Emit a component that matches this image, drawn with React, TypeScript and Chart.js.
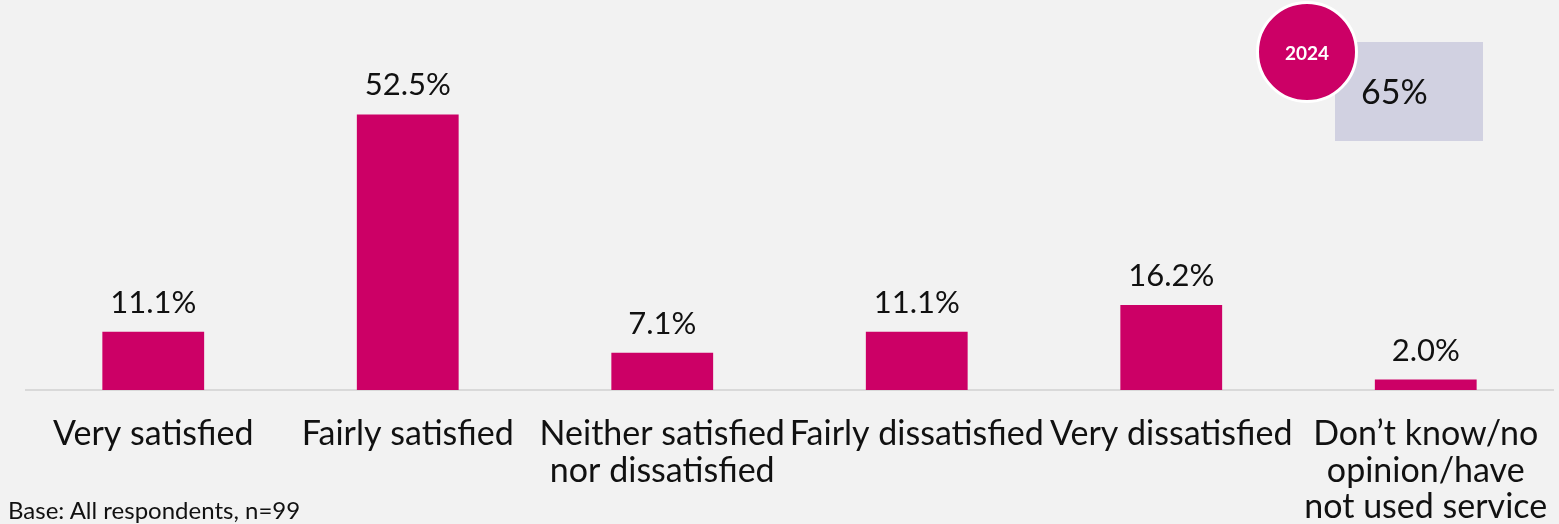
import React, { useEffect, useRef } from "react";
import { Chart, registerables } from "chart.js";

Chart.register(...registerables);

const categories: string[][] = [
  ["Very satisfied"],
  ["Fairly satisfied"],
  ["Neither satisfied", "nor dissatisfied"],
  ["Fairly dissatisfied"],
  ["Very dissatisfied"],
  ["Don\u2019t know/no", "opinion/have", "not used service"],
];
const values: number[] = [11.1, 52.5, 7.1, 11.1, 16.2, 2.0];
const yearLabel = "2024";
const headlineValue = "65%";
const baseNote = "Base: All respondents, n=99";

const BAR_COLOR = "#cc0066";
const BG = "#f2f2f2";
const FONT = "Lato, 'Open Sans', sans-serif";

const valueLabels = {
  id: "valueLabels",
  afterDatasetsDraw(chart: any) {
    const ctx = chart.ctx;
    const meta = chart.getDatasetMeta(0);
    ctx.save();
    ctx.fillStyle = "#111";
    ctx.font = `31px ${FONT}`;
    ctx.textAlign = "center";
    ctx.textBaseline = "alphabetic";
    meta.data.forEach((bar: any, i: number) => {
      ctx.fillText(values[i].toFixed(1) + "%", bar.x, bar.y - 19);
    });
    ctx.restore();
  },
};

export default function App() {
  const ref = useRef<HTMLCanvasElement | null>(null);

  useEffect(() => {
    document.body.style.margin = "0";
    document.body.style.background = BG;
    if (!ref.current) return;
    const chart = new Chart(ref.current, {
      type: "bar",
      data: {
        labels: categories,
        datasets: [
          {
            data: values,
            backgroundColor: BAR_COLOR,
            categoryPercentage: 1,
            barPercentage: 0.4,
          },
        ],
      },
      options: {
        animation: false,
        responsive: false,
        layout: { padding: { left: 26, right: 6, top: 75, bottom: 0 } },
        plugins: { legend: { display: false }, tooltip: { enabled: false } },
        scales: {
          y: { display: false, min: 0, max: 60 },
          x: {
            grid: { display: false },
            border: { display: true, color: "#d9d9d9", width: 2 },
            ticks: {
              color: "#111",
              font: { family: FONT, size: 34, lineHeight: "36.5px" },
              padding: 18,
              maxRotation: 0,
              autoSkip: false,
            },
            afterFit: (scale: any) => {
              scale.height = 134;
              scale.paddingLeft = 0;
              scale.paddingRight = 0;
            },
          },
        },
      },
      plugins: [valueLabels],
    });
    return () => chart.destroy();
  }, []);

  return (
    <div
      style={{
        position: "absolute",
        left: 0,
        top: 0,
        width: 1559,
        height: 524,
        background: BG,
        overflow: "hidden",
        fontFamily: FONT,
      }}
    >
      <canvas ref={ref} width={1559} height={524} style={{ display: "block" }} />
      <div
        style={{
          position: "absolute",
          left: 1335,
          top: 42,
          width: 148,
          height: 99,
          background: "#d1d1e1",
          boxSizing: "border-box",
        }}
      >
        <div
          style={{
            position: "absolute",
            left: 26,
            top: 29,
            fontSize: 34,
            lineHeight: "40px",
            color: "#111",
          }}
        >
          {headlineValue}
        </div>
      </div>
      <div
        style={{
          position: "absolute",
          left: 1256,
          top: 1,
          width: 102,
          height: 102,
          borderRadius: "50%",
          background: BAR_COLOR,
          border: "3px solid #fff",
          boxSizing: "border-box",
          display: "flex",
          alignItems: "center",
          justifyContent: "center",
          color: "#fff",
          fontWeight: 700,
          fontSize: 19,
        }}
      >
        {yearLabel}
      </div>
      <div
        style={{
          position: "absolute",
          left: 8,
          top: 496,
          fontSize: 24,
          lineHeight: "28px",
          color: "#111",
          whiteSpace: "nowrap",
        }}
      >
        {baseNote}
      </div>
    </div>
  );
}
